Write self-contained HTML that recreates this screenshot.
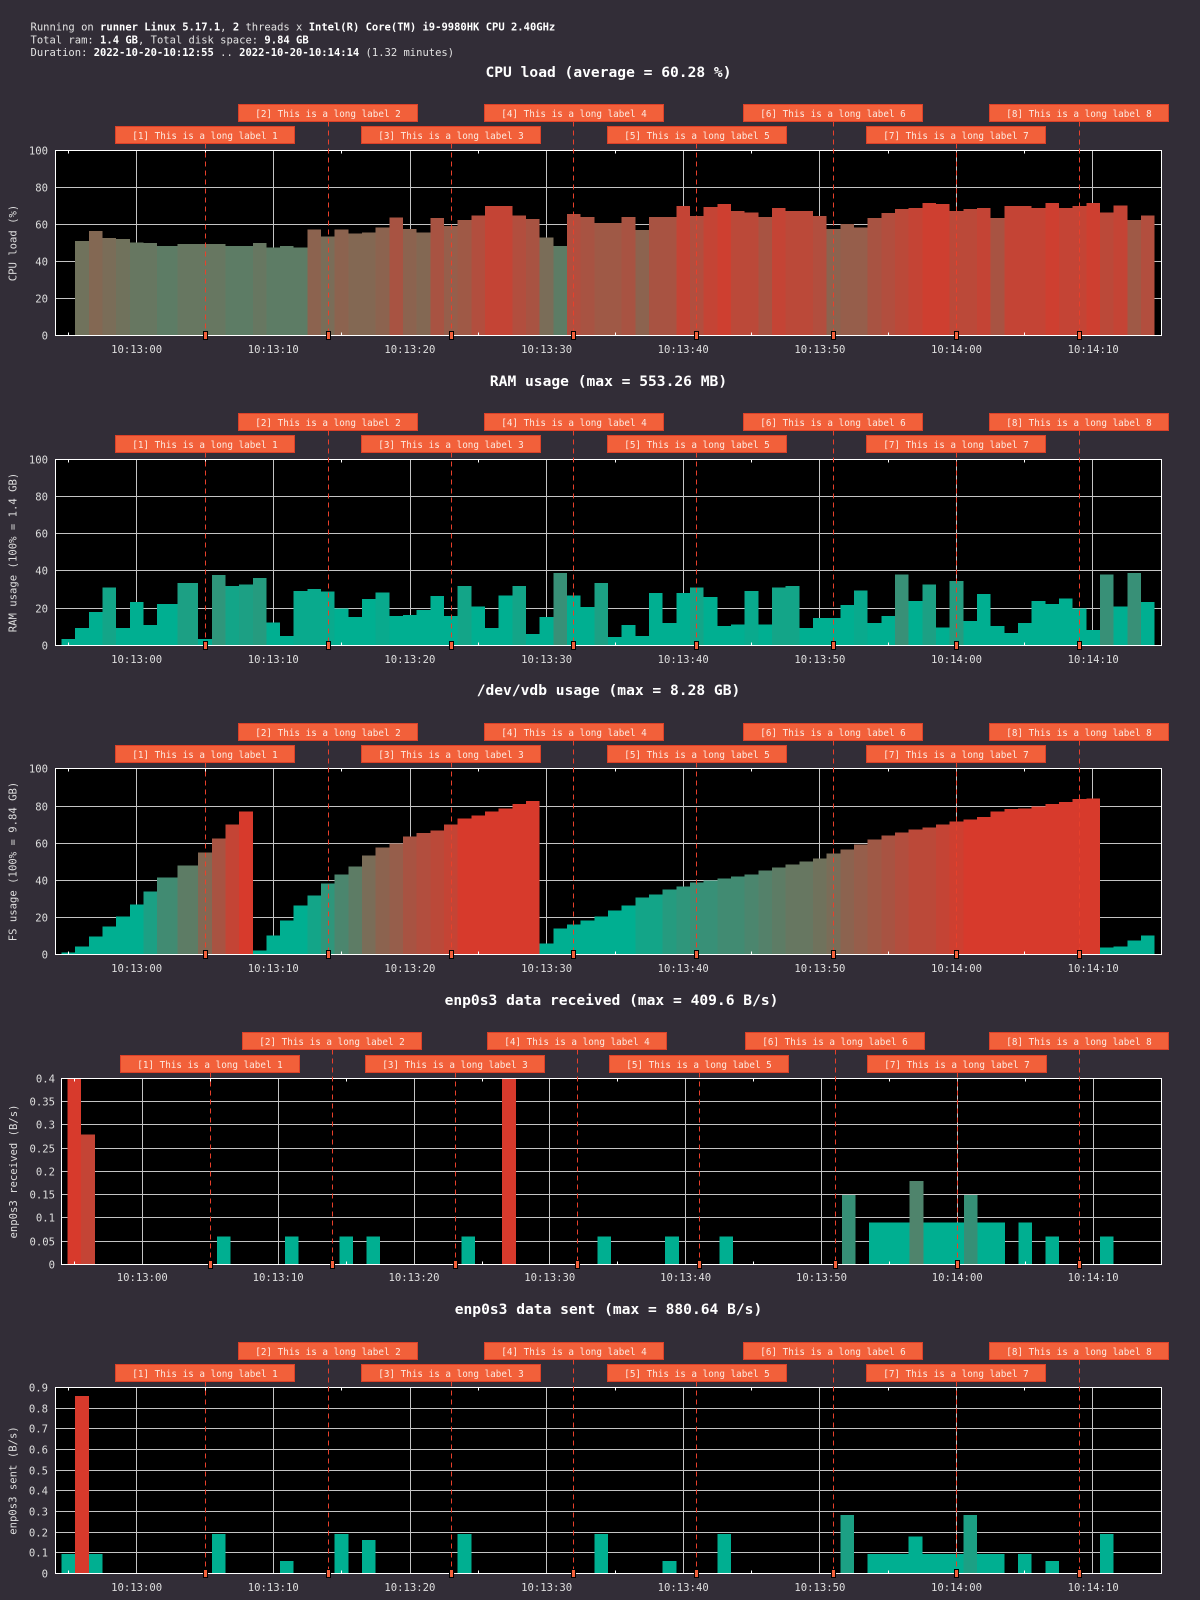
<!DOCTYPE html>
<html><head><meta charset="utf-8"><title>Resource usage</title>
<style>
html,body{margin:0;padding:0;background:#322d37;width:1200px;height:1600px;overflow:hidden}
svg{display:block}
.tk{font-size:10.6px;fill:#dedede}
.ya{text-anchor:end}
.xa{text-anchor:middle}
.ti{font-size:14.6px;font-weight:bold;fill:#ffffff;text-anchor:middle}
.lb{font-size:9.3px;fill:#fde9df;text-anchor:middle}
.hd{font-size:10.5px;fill:#e2e2e2}
.hd tspan{font-weight:bold;fill:#ffffff}
.bx{fill:#f2603a;stroke:#dc4129;stroke-width:1}
.mk{fill:#f2603a;stroke:#000;stroke-width:1}
.gr{stroke:#c4c4c4;stroke-width:1;fill:none}
.fr{stroke:#ffffff;stroke-width:1;fill:none}
.mt{stroke:#ffffff;stroke-width:1;fill:none}
.ds{stroke:#e8402b;stroke-width:1;stroke-dasharray:5 4;fill:none}
</style></head>
<body>
<svg xmlns="http://www.w3.org/2000/svg" width="1200" height="1600" viewBox="0 0 1200 1600" font-family="'DejaVu Sans Mono','Liberation Mono',monospace">
<rect width="1200" height="1600" fill="#322d37"/>

<!-- header -->
<text class="hd" x="30.5" y="30.5">Running on <tspan>runner Linux 5.17.1</tspan>, <tspan>2</tspan> threads x <tspan>Intel(R) Core(TM) i9-9980HK CPU 2.40GHz</tspan></text>
<text class="hd" x="30.5" y="43.3">Total ram: <tspan>1.4 GB</tspan>, Total disk space: <tspan>9.84 GB</tspan></text>
<text class="hd" x="30.5" y="56.2">Duration: <tspan>2022-10-20-10:12:55</tspan> .. <tspan>2022-10-20-10:14:14</tspan> (1.32 minutes)</text>

<!-- ================= PANEL 1 CPU ================= -->
<text class="ti" x="608.5" y="76.8">CPU load (average = 60.28 %)</text>
<rect x="55.5" y="150.5" width="1106" height="185" fill="#000"/>
<path class="gr" d="M55.5 187.5H1161.5M55.5 224.5H1161.5M55.5 261.5H1161.5M55.5 298.5H1161.5M136.5 150.5V335.5M273.5 150.5V335.5M410.5 150.5V335.5M546.5 150.5V335.5M683.5 150.5V335.5M819.5 150.5V335.5M956.5 150.5V335.5M1092.5 150.5V335.5"/>
<g transform="translate(136.6 335.5) scale(13.665 -1.85)" shape-rendering="crispEdges">
<rect x="-4.5" width="1" height="51" fill="#70725c"/>
<rect x="-3.5" width="1" height="56.4" fill="#836853"/>
<rect x="-2.5" width="1" height="52.6" fill="#7a6d58"/>
<rect x="-1.5" width="1" height="52.1" fill="#70725c"/>
<rect x="-0.5" width="1" height="50.4" fill="#677761"/>
<rect x="0.5" width="1" height="49.9" fill="#677761"/>
<rect x="1.5" width="1.5" height="48.3" fill="#5d7c65"/>
<rect x="3" width="1.5" height="49.4" fill="#677761"/>
<rect x="4.5" width="2" height="49.4" fill="#677761"/>
<rect x="6.5" width="2" height="48.3" fill="#5d7c65"/>
<rect x="8.5" width="1" height="49.9" fill="#677761"/>
<rect x="9.5" width="1" height="47.7" fill="#5d7c65"/>
<rect x="10.5" width="1" height="48.3" fill="#5d7c65"/>
<rect x="11.5" width="1" height="47.7" fill="#5d7c65"/>
<rect x="12.5" width="1" height="57.3" fill="#8c634f"/>
<rect x="13.5" width="1" height="53.5" fill="#7a6d58"/>
<rect x="14.5" width="1" height="57.3" fill="#8c634f"/>
<rect x="15.5" width="1" height="55.2" fill="#836853"/>
<rect x="16.5" width="1" height="55.7" fill="#836853"/>
<rect x="17.5" width="1" height="58.4" fill="#8c634f"/>
<rect x="18.5" width="1" height="63.8" fill="#a85342"/>
<rect x="19.5" width="1" height="57.5" fill="#8c634f"/>
<rect x="20.5" width="1" height="55.8" fill="#836853"/>
<rect x="21.5" width="1" height="63.4" fill="#a85342"/>
<rect x="22.5" width="1" height="59.1" fill="#965e4b"/>
<rect x="23.5" width="1" height="62.3" fill="#9f5946"/>
<rect x="24.5" width="1" height="65" fill="#b24e3e"/>
<rect x="25.5" width="2" height="69.9" fill="#c44435"/>
<rect x="27.5" width="1" height="65" fill="#b24e3e"/>
<rect x="28.5" width="1" height="62.9" fill="#a85342"/>
<rect x="29.5" width="1" height="53.1" fill="#7a6d58"/>
<rect x="30.5" width="1" height="48.3" fill="#5d7c65"/>
<rect x="31.5" width="1" height="65.6" fill="#b24e3e"/>
<rect x="32.5" width="1" height="64" fill="#a85342"/>
<rect x="33.5" width="2" height="60.7" fill="#9f5946"/>
<rect x="35.5" width="1" height="64" fill="#a85342"/>
<rect x="36.5" width="1" height="56.9" fill="#8c634f"/>
<rect x="37.5" width="2" height="64" fill="#a85342"/>
<rect x="39.5" width="1" height="69.9" fill="#c44435"/>
<rect x="40.5" width="1" height="64.5" fill="#b24e3e"/>
<rect x="41.5" width="1" height="69.4" fill="#c44435"/>
<rect x="42.5" width="1" height="71" fill="#ce3f30"/>
<rect x="43.5" width="1" height="67.2" fill="#bb4939"/>
<rect x="44.5" width="1" height="66.6" fill="#bb4939"/>
<rect x="45.5" width="1" height="64" fill="#a85342"/>
<rect x="46.5" width="1" height="68.8" fill="#c44435"/>
<rect x="47.5" width="2" height="67.2" fill="#bb4939"/>
<rect x="49.5" width="1" height="64.5" fill="#b24e3e"/>
<rect x="50.5" width="1" height="57.5" fill="#8c634f"/>
<rect x="51.5" width="1" height="60.2" fill="#965e4b"/>
<rect x="52.5" width="1" height="58.5" fill="#965e4b"/>
<rect x="53.5" width="1" height="63.4" fill="#a85342"/>
<rect x="54.5" width="1" height="66.1" fill="#b24e3e"/>
<rect x="55.5" width="1" height="68.3" fill="#bb4939"/>
<rect x="56.5" width="1" height="68.8" fill="#c44435"/>
<rect x="57.5" width="1" height="71.5" fill="#ce3f30"/>
<rect x="58.5" width="1" height="71" fill="#ce3f30"/>
<rect x="59.5" width="1" height="67.2" fill="#bb4939"/>
<rect x="60.5" width="1" height="68.3" fill="#bb4939"/>
<rect x="61.5" width="1" height="68.8" fill="#c44435"/>
<rect x="62.5" width="1" height="63.4" fill="#a85342"/>
<rect x="63.5" width="2" height="69.9" fill="#c44435"/>
<rect x="65.5" width="1" height="68.8" fill="#c44435"/>
<rect x="66.5" width="1" height="71.5" fill="#ce3f30"/>
<rect x="67.5" width="1" height="68.8" fill="#c44435"/>
<rect x="68.5" width="1" height="69.9" fill="#c44435"/>
<rect x="69.5" width="1" height="71.5" fill="#ce3f30"/>
<rect x="70.5" width="1" height="66.6" fill="#bb4939"/>
<rect x="71.5" width="1" height="70.4" fill="#c44435"/>
<rect x="72.5" width="1" height="62.3" fill="#9f5946"/>
<rect x="73.5" width="1" height="65" fill="#b24e3e"/>
</g>
<path class="mt" d="M68.5 150.5v3M68.5 335.5v-3M205.5 150.5v3M205.5 335.5v-3M341.5 150.5v3M341.5 335.5v-3M478.5 150.5v3M478.5 335.5v-3M615.5 150.5v3M615.5 335.5v-3M751.5 150.5v3M751.5 335.5v-3M888.5 150.5v3M888.5 335.5v-3M1024.5 150.5v3M1024.5 335.5v-3"/>
<rect class="fr" x="55.5" y="150.5" width="1106" height="185"/>
<path class="ds" d="M205.5 143.5V335.5M328.5 121.5V335.5M451.5 143.5V335.5M573.5 121.5V335.5M696.5 143.5V335.5M833.5 121.5V335.5M956.5 143.5V335.5M1079.5 121.5V335.5"/>
<rect class="bx" x="115.5" y="126.5" width="179" height="17"/><text class="lb" x="205" y="138.8">[1] This is a long label 1</text>
<rect class="bx" x="238.5" y="104.5" width="179" height="17"/><text class="lb" x="328" y="116.8">[2] This is a long label 2</text>
<rect class="bx" x="361.5" y="126.5" width="179" height="17"/><text class="lb" x="451" y="138.8">[3] This is a long label 3</text>
<rect class="bx" x="484.5" y="104.5" width="179" height="17"/><text class="lb" x="574" y="116.8">[4] This is a long label 4</text>
<rect class="bx" x="607.5" y="126.5" width="179" height="17"/><text class="lb" x="697" y="138.8">[5] This is a long label 5</text>
<rect class="bx" x="743.5" y="104.5" width="179" height="17"/><text class="lb" x="833" y="116.8">[6] This is a long label 6</text>
<rect class="bx" x="866.5" y="126.5" width="179" height="17"/><text class="lb" x="956" y="138.8">[7] This is a long label 7</text>
<rect class="bx" x="989.5" y="104.5" width="179" height="17"/><text class="lb" x="1079" y="116.8">[8] This is a long label 8</text>
<g class="mk"><rect x="203.5" y="331.5" width="4" height="8"/><rect x="326.5" y="331.5" width="4" height="8"/><rect x="449.5" y="331.5" width="4" height="8"/><rect x="571.5" y="331.5" width="4" height="8"/><rect x="694.5" y="331.5" width="4" height="8"/><rect x="831.5" y="331.5" width="4" height="8"/><rect x="954.5" y="331.5" width="4" height="8"/><rect x="1077.5" y="331.5" width="4" height="8"/></g>
<g class="tk ya"><text x="48" y="154.3">100</text><text x="48" y="191.3">80</text><text x="48" y="228.3">60</text><text x="48" y="265.3">40</text><text x="48" y="302.3">20</text><text x="48" y="339.3">0</text></g>
<g class="tk xa"><text x="136.6" y="353">10:13:00</text><text x="273.3" y="353">10:13:10</text><text x="409.9" y="353">10:13:20</text><text x="546.6" y="353">10:13:30</text><text x="683.2" y="353">10:13:40</text><text x="819.9" y="353">10:13:50</text><text x="956.5" y="353">10:14:00</text><text x="1093.2" y="353">10:14:10</text></g>
<text class="tk xa" transform="translate(16.5 243) rotate(-90)">CPU load (%)</text>

<!-- ================= PANEL 2 RAM ================= -->
<text class="ti" x="608.5" y="385.8">RAM usage (max = 553.26 MB)</text>
<rect x="55.5" y="459.5" width="1106" height="186" fill="#000"/>
<path class="gr" d="M55.5 496.5H1161.5M55.5 533.5H1161.5M55.5 570.5H1161.5M55.5 608.5H1161.5M136.5 459.5V645.5M273.5 459.5V645.5M410.5 459.5V645.5M546.5 459.5V645.5M683.5 459.5V645.5M819.5 459.5V645.5M956.5 459.5V645.5M1092.5 459.5V645.5"/>
<g transform="translate(136.6 645.5) scale(13.665 -1.86)" shape-rendering="crispEdges" fill="#00af91">
<rect x="-5.5" width="1" height="3.4"/>
<rect x="-4.5" width="1" height="9.3"/>
<rect x="-3.5" width="1" height="17.9"/>
<rect x="-2.5" width="1" height="31.3" fill="#13a588"/>
<rect x="-1.5" width="1" height="9.3"/>
<rect x="-0.5" width="1" height="23.3"/>
<rect x="0.5" width="1" height="10.9"/>
<rect x="1.5" width="1.5" height="22.2"/>
<rect x="3" width="1.5" height="33.5" fill="#1ca084"/>
<rect x="4.5" width="1" height="3.4"/>
<rect x="5.5" width="1" height="37.8" fill="#2f967b"/>
<rect x="6.5" width="1" height="31.9" fill="#13a588"/>
<rect x="7.5" width="1" height="32.9" fill="#1ca084"/>
<rect x="8.5" width="1" height="36.2" fill="#259b7f"/>
<rect x="9.5" width="1" height="12.5"/>
<rect x="10.5" width="1" height="5"/>
<rect x="11.5" width="1" height="29.2" fill="#09aa8d"/>
<rect x="12.5" width="1" height="30.3" fill="#09aa8d"/>
<rect x="13.5" width="1" height="29" fill="#09aa8d"/>
<rect x="14.5" width="1" height="20"/>
<rect x="15.5" width="1" height="15.2"/>
<rect x="16.5" width="1" height="24.9"/>
<rect x="17.5" width="1" height="28.6" fill="#09aa8d"/>
<rect x="18.5" width="1" height="15.8"/>
<rect x="19.5" width="1" height="16.3"/>
<rect x="20.5" width="1" height="19"/>
<rect x="21.5" width="1" height="26.5"/>
<rect x="22.5" width="1" height="15.8"/>
<rect x="23.5" width="1" height="31.9" fill="#13a588"/>
<rect x="24.5" width="1" height="21.1"/>
<rect x="25.5" width="1" height="9.3"/>
<rect x="26.5" width="1" height="27"/>
<rect x="27.5" width="1" height="31.9" fill="#13a588"/>
<rect x="28.5" width="1" height="6.1"/>
<rect x="29.5" width="1" height="15.2"/>
<rect x="30.5" width="1" height="38.9" fill="#389077"/>
<rect x="31.5" width="1" height="27"/>
<rect x="32.5" width="1" height="20.6"/>
<rect x="33.5" width="1" height="33.5" fill="#1ca084"/>
<rect x="34.5" width="1" height="4.5"/>
<rect x="35.5" width="1" height="10.9"/>
<rect x="36.5" width="1" height="5"/>
<rect x="37.5" width="1" height="28.1"/>
<rect x="38.5" width="1" height="12"/>
<rect x="39.5" width="1" height="28.1"/>
<rect x="40.5" width="1" height="31.3" fill="#13a588"/>
<rect x="41.5" width="1" height="26"/>
<rect x="42.5" width="1" height="10.4"/>
<rect x="43.5" width="1" height="11.4"/>
<rect x="44.5" width="1" height="29.2" fill="#09aa8d"/>
<rect x="45.5" width="1" height="11.4"/>
<rect x="46.5" width="1" height="31.3" fill="#13a588"/>
<rect x="47.5" width="1" height="31.9" fill="#13a588"/>
<rect x="48.5" width="1" height="9.3"/>
<rect x="49.5" width="2" height="14.7"/>
<rect x="51.5" width="1" height="21.7"/>
<rect x="52.5" width="1" height="29.7" fill="#09aa8d"/>
<rect x="53.5" width="1" height="12"/>
<rect x="54.5" width="1" height="15.8"/>
<rect x="55.5" width="1" height="38.3" fill="#389077"/>
<rect x="56.5" width="1" height="23.8"/>
<rect x="57.5" width="1" height="32.9" fill="#1ca084"/>
<rect x="58.5" width="1" height="9.8"/>
<rect x="59.5" width="1" height="34.6" fill="#259b7f"/>
<rect x="60.5" width="1" height="13.1"/>
<rect x="61.5" width="1" height="27.6"/>
<rect x="62.5" width="1" height="10.4"/>
<rect x="63.5" width="1" height="6.6"/>
<rect x="64.5" width="1" height="12"/>
<rect x="65.5" width="1" height="23.8"/>
<rect x="66.5" width="1" height="22.2"/>
<rect x="67.5" width="1" height="25.4"/>
<rect x="68.5" width="1" height="20"/>
<rect x="69.5" width="1" height="8.2"/>
<rect x="70.5" width="1" height="38.3" fill="#389077"/>
<rect x="71.5" width="1" height="21.1"/>
<rect x="72.5" width="1" height="38.9" fill="#389077"/>
<rect x="73.5" width="1" height="23.3"/>
</g>
<path class="mt" d="M68.5 459.5v3M68.5 645.5v-3M205.5 459.5v3M205.5 645.5v-3M341.5 459.5v3M341.5 645.5v-3M478.5 459.5v3M478.5 645.5v-3M615.5 459.5v3M615.5 645.5v-3M751.5 459.5v3M751.5 645.5v-3M888.5 459.5v3M888.5 645.5v-3M1024.5 459.5v3M1024.5 645.5v-3"/>
<rect class="fr" x="55.5" y="459.5" width="1106" height="186"/>
<path class="ds" d="M205.5 452.5V645.5M328.5 430.5V645.5M451.5 452.5V645.5M573.5 430.5V645.5M696.5 452.5V645.5M833.5 430.5V645.5M956.5 452.5V645.5M1079.5 430.5V645.5"/>
<rect class="bx" x="115.5" y="435.5" width="179" height="17"/><text class="lb" x="205" y="447.8">[1] This is a long label 1</text>
<rect class="bx" x="238.5" y="413.5" width="179" height="17"/><text class="lb" x="328" y="425.8">[2] This is a long label 2</text>
<rect class="bx" x="361.5" y="435.5" width="179" height="17"/><text class="lb" x="451" y="447.8">[3] This is a long label 3</text>
<rect class="bx" x="484.5" y="413.5" width="179" height="17"/><text class="lb" x="574" y="425.8">[4] This is a long label 4</text>
<rect class="bx" x="607.5" y="435.5" width="179" height="17"/><text class="lb" x="697" y="447.8">[5] This is a long label 5</text>
<rect class="bx" x="743.5" y="413.5" width="179" height="17"/><text class="lb" x="833" y="425.8">[6] This is a long label 6</text>
<rect class="bx" x="866.5" y="435.5" width="179" height="17"/><text class="lb" x="956" y="447.8">[7] This is a long label 7</text>
<rect class="bx" x="989.5" y="413.5" width="179" height="17"/><text class="lb" x="1079" y="425.8">[8] This is a long label 8</text>
<g class="mk"><rect x="203.5" y="641.5" width="4" height="8"/><rect x="326.5" y="641.5" width="4" height="8"/><rect x="449.5" y="641.5" width="4" height="8"/><rect x="571.5" y="641.5" width="4" height="8"/><rect x="694.5" y="641.5" width="4" height="8"/><rect x="831.5" y="641.5" width="4" height="8"/><rect x="954.5" y="641.5" width="4" height="8"/><rect x="1077.5" y="641.5" width="4" height="8"/></g>
<g class="tk ya"><text x="48" y="463.3">100</text><text x="48" y="500.3">80</text><text x="48" y="537.3">60</text><text x="48" y="574.3">40</text><text x="48" y="612.3">20</text><text x="48" y="649.3">0</text></g>
<g class="tk xa"><text x="136.6" y="663">10:13:00</text><text x="273.3" y="663">10:13:10</text><text x="409.9" y="663">10:13:20</text><text x="546.6" y="663">10:13:30</text><text x="683.2" y="663">10:13:40</text><text x="819.9" y="663">10:13:50</text><text x="956.5" y="663">10:14:00</text><text x="1093.2" y="663">10:14:10</text></g>
<text class="tk xa" transform="translate(16.5 552.5) rotate(-90)">RAM usage (100% = 1.4 GB)</text>

<!-- ================= PANEL 3 FS ================= -->
<text class="ti" x="608.5" y="694.8">/dev/vdb usage (max = 8.28 GB)</text>
<rect x="55.5" y="768.5" width="1106" height="186" fill="#000"/>
<path class="gr" d="M55.5 806.5H1161.5M55.5 843.5H1161.5M55.5 880.5H1161.5M55.5 917.5H1161.5M136.5 768.5V954.5M273.5 768.5V954.5M410.5 768.5V954.5M546.5 768.5V954.5M683.5 768.5V954.5M819.5 768.5V954.5M956.5 768.5V954.5M1092.5 768.5V954.5"/>
<g transform="translate(136.6 954.5) scale(13.665 -1.86)" shape-rendering="crispEdges" fill="#00af91">
<rect x="-5.5" width="1" height="1.1"/>
<rect x="-4.5" width="1" height="4.3"/>
<rect x="-3.5" width="1" height="9.7"/>
<rect x="-2.5" width="1" height="15.1"/>
<rect x="-1.5" width="1" height="20.5"/>
<rect x="-0.5" width="1" height="26.9"/>
<rect x="0.5" width="1" height="33.9" fill="#1ca084"/>
<rect x="1.5" width="1.5" height="41.5" fill="#418b72"/>
<rect x="3" width="1.5" height="47.9" fill="#5d7c65"/>
<rect x="4.5" width="1" height="54.9" fill="#836853"/>
<rect x="5.5" width="1" height="62.5" fill="#a85342"/>
<rect x="6.5" width="1" height="70" fill="#c44435"/>
<rect x="7.5" width="1" height="77" fill="#d73a2c"/>
<rect x="8.5" width="1" height="2.2"/>
<rect x="9.5" width="1" height="10.2"/>
<rect x="10.5" width="1" height="18.3"/>
<rect x="11.5" width="1" height="26.4"/>
<rect x="12.5" width="1" height="31.8" fill="#13a588"/>
<rect x="13.5" width="1" height="38.2" fill="#2f967b"/>
<rect x="14.5" width="1" height="43.1" fill="#4b866e"/>
<rect x="15.5" width="1" height="47.4" fill="#5d7c65"/>
<rect x="16.5" width="1" height="53.3" fill="#7a6d58"/>
<rect x="17.5" width="1" height="57.6" fill="#8c634f"/>
<rect x="18.5" width="1" height="59.8" fill="#965e4b"/>
<rect x="19.5" width="1" height="63.5" fill="#a85342"/>
<rect x="20.5" width="1" height="65.2" fill="#b24e3e"/>
<rect x="21.5" width="1" height="66.8" fill="#bb4939"/>
<rect x="22.5" width="1" height="70" fill="#c44435"/>
<rect x="23.5" width="1" height="73.2" fill="#d73a2c"/>
<rect x="24.5" width="1" height="74.8" fill="#d73a2c"/>
<rect x="25.5" width="1" height="77" fill="#d73a2c"/>
<rect x="26.5" width="1" height="78.6" fill="#d73a2c"/>
<rect x="27.5" width="1" height="80.8" fill="#d73a2c"/>
<rect x="28.5" width="1" height="82.4" fill="#d73a2c"/>
<rect x="29.5" width="1" height="5.9"/>
<rect x="30.5" width="1" height="14"/>
<rect x="31.5" width="1" height="16.2"/>
<rect x="32.5" width="1" height="18.3"/>
<rect x="33.5" width="1" height="20.5"/>
<rect x="34.5" width="1" height="23.7"/>
<rect x="35.5" width="1" height="26.4"/>
<rect x="36.5" width="1" height="30.7" fill="#13a588"/>
<rect x="37.5" width="1" height="32.3" fill="#13a588"/>
<rect x="38.5" width="1" height="35" fill="#259b7f"/>
<rect x="39.5" width="1" height="36.6" fill="#2f967b"/>
<rect x="40.5" width="1" height="38.8" fill="#389077"/>
<rect x="41.5" width="1" height="39.8" fill="#389077"/>
<rect x="42.5" width="1" height="40.9" fill="#418b72"/>
<rect x="43.5" width="1" height="42" fill="#418b72"/>
<rect x="44.5" width="1" height="43.1" fill="#4b866e"/>
<rect x="45.5" width="1" height="45.2" fill="#54816a"/>
<rect x="46.5" width="1" height="46.8" fill="#5d7c65"/>
<rect x="47.5" width="1" height="48.5" fill="#677761"/>
<rect x="48.5" width="1" height="50.1" fill="#677761"/>
<rect x="49.5" width="1" height="51.7" fill="#70725c"/>
<rect x="50.5" width="1" height="54.4" fill="#7a6d58"/>
<rect x="51.5" width="1" height="56.5" fill="#8c634f"/>
<rect x="52.5" width="1" height="59.2" fill="#965e4b"/>
<rect x="53.5" width="1" height="61.9" fill="#9f5946"/>
<rect x="54.5" width="1" height="64.1" fill="#a85342"/>
<rect x="55.5" width="1" height="65.7" fill="#b24e3e"/>
<rect x="56.5" width="1" height="67.3" fill="#bb4939"/>
<rect x="57.5" width="1" height="68.4" fill="#bb4939"/>
<rect x="58.5" width="1" height="70" fill="#c44435"/>
<rect x="59.5" width="1" height="71.6" fill="#ce3f30"/>
<rect x="60.5" width="1" height="72.7" fill="#d73a2c"/>
<rect x="61.5" width="1" height="73.8" fill="#d73a2c"/>
<rect x="62.5" width="1" height="77" fill="#d73a2c"/>
<rect x="63.5" width="1" height="78.1" fill="#d73a2c"/>
<rect x="64.5" width="1" height="78.6" fill="#d73a2c"/>
<rect x="65.5" width="1" height="79.7" fill="#d73a2c"/>
<rect x="66.5" width="1" height="80.8" fill="#d73a2c"/>
<rect x="67.5" width="1" height="81.9" fill="#d73a2c"/>
<rect x="68.5" width="1" height="83.5" fill="#d73a2c"/>
<rect x="69.5" width="1" height="84" fill="#d73a2c"/>
<rect x="70.5" width="1" height="3.8"/>
<rect x="71.5" width="1" height="4.3"/>
<rect x="72.5" width="1" height="7.5"/>
<rect x="73.5" width="1" height="10.2"/>
</g>
<path class="mt" d="M68.5 768.5v3M68.5 954.5v-3M205.5 768.5v3M205.5 954.5v-3M341.5 768.5v3M341.5 954.5v-3M478.5 768.5v3M478.5 954.5v-3M615.5 768.5v3M615.5 954.5v-3M751.5 768.5v3M751.5 954.5v-3M888.5 768.5v3M888.5 954.5v-3M1024.5 768.5v3M1024.5 954.5v-3"/>
<rect class="fr" x="55.5" y="768.5" width="1106" height="186"/>
<path class="ds" d="M205.5 762.5V954.5M328.5 740.5V954.5M451.5 762.5V954.5M573.5 740.5V954.5M696.5 762.5V954.5M833.5 740.5V954.5M956.5 762.5V954.5M1079.5 740.5V954.5"/>
<rect class="bx" x="115.5" y="745.5" width="179" height="17"/><text class="lb" x="205" y="757.8">[1] This is a long label 1</text>
<rect class="bx" x="238.5" y="723.5" width="179" height="17"/><text class="lb" x="328" y="735.8">[2] This is a long label 2</text>
<rect class="bx" x="361.5" y="745.5" width="179" height="17"/><text class="lb" x="451" y="757.8">[3] This is a long label 3</text>
<rect class="bx" x="484.5" y="723.5" width="179" height="17"/><text class="lb" x="574" y="735.8">[4] This is a long label 4</text>
<rect class="bx" x="607.5" y="745.5" width="179" height="17"/><text class="lb" x="697" y="757.8">[5] This is a long label 5</text>
<rect class="bx" x="743.5" y="723.5" width="179" height="17"/><text class="lb" x="833" y="735.8">[6] This is a long label 6</text>
<rect class="bx" x="866.5" y="745.5" width="179" height="17"/><text class="lb" x="956" y="757.8">[7] This is a long label 7</text>
<rect class="bx" x="989.5" y="723.5" width="179" height="17"/><text class="lb" x="1079" y="735.8">[8] This is a long label 8</text>
<g class="mk"><rect x="203.5" y="950.5" width="4" height="8"/><rect x="326.5" y="950.5" width="4" height="8"/><rect x="449.5" y="950.5" width="4" height="8"/><rect x="571.5" y="950.5" width="4" height="8"/><rect x="694.5" y="950.5" width="4" height="8"/><rect x="831.5" y="950.5" width="4" height="8"/><rect x="954.5" y="950.5" width="4" height="8"/><rect x="1077.5" y="950.5" width="4" height="8"/></g>
<g class="tk ya"><text x="48" y="772.3">100</text><text x="48" y="810.3">80</text><text x="48" y="847.3">60</text><text x="48" y="884.3">40</text><text x="48" y="921.3">20</text><text x="48" y="958.3">0</text></g>
<g class="tk xa"><text x="136.6" y="972">10:13:00</text><text x="273.3" y="972">10:13:10</text><text x="409.9" y="972">10:13:20</text><text x="546.6" y="972">10:13:30</text><text x="683.2" y="972">10:13:40</text><text x="819.9" y="972">10:13:50</text><text x="956.5" y="972">10:14:00</text><text x="1093.2" y="972">10:14:10</text></g>
<text class="tk xa" transform="translate(16.5 861.5) rotate(-90)">FS usage (100% = 9.84 GB)</text>

<!-- ================= PANEL 4 RECEIVED ================= -->
<text class="ti" x="611.5" y="1004.8">enp0s3 data received (max = 409.6 B/s)</text>
<rect x="61.5" y="1078.5" width="1100" height="186" fill="#000"/>
<path class="gr" d="M61.5 1101.5H1161.5M61.5 1124.5H1161.5M61.5 1148.5H1161.5M61.5 1171.5H1161.5M61.5 1194.5H1161.5M61.5 1217.5H1161.5M61.5 1241.5H1161.5M142.5 1078.5V1264.5M278.5 1078.5V1264.5M414.5 1078.5V1264.5M549.5 1078.5V1264.5M685.5 1078.5V1264.5M821.5 1078.5V1264.5M957.5 1078.5V1264.5M1093.5 1078.5V1264.5"/>
<g transform="translate(142.3 1264.5) scale(13.583 -465)" shape-rendering="crispEdges" fill="#00af91">
<rect x="-5.5" width="1" height="0.4" fill="#d73a2c"/>
<rect x="-4.5" width="1" height="0.28" fill="#c44435"/>
<rect x="5.5" width="1" height="0.06"/>
<rect x="10.5" width="1" height="0.06"/>
<rect x="14.5" width="1" height="0.06"/>
<rect x="16.5" width="1" height="0.06"/>
<rect x="23.5" width="1" height="0.06"/>
<rect x="26.5" width="1" height="0.4" fill="#d73a2c"/>
<rect x="33.5" width="1" height="0.06"/>
<rect x="38.5" width="1" height="0.06"/>
<rect x="42.5" width="1" height="0.06"/>
<rect x="51.5" width="1" height="0.15" fill="#368f76"/>
<rect x="53.5" width="3" height="0.09"/>
<rect x="56.5" width="1" height="0.18" fill="#4f846c"/>
<rect x="57.5" width="3" height="0.09"/>
<rect x="60.5" width="1" height="0.15" fill="#368f76"/>
<rect x="61.5" width="2" height="0.09"/>
<rect x="64.5" width="1" height="0.09"/>
<rect x="66.5" width="1" height="0.06"/>
<rect x="70.5" width="1" height="0.06"/>
</g>
<path class="mt" d="M74.5 1078.5v3M74.5 1264.5v-3M210.5 1078.5v3M210.5 1264.5v-3M346.5 1078.5v3M346.5 1264.5v-3M482.5 1078.5v3M482.5 1264.5v-3M617.5 1078.5v3M617.5 1264.5v-3M753.5 1078.5v3M753.5 1264.5v-3M889.5 1078.5v3M889.5 1264.5v-3M1025.5 1078.5v3M1025.5 1264.5v-3"/>
<rect class="fr" x="61.5" y="1078.5" width="1100" height="186"/>
<path class="ds" d="M210.5 1072.5V1264.5M332.5 1049.5V1264.5M455.5 1072.5V1264.5M577.5 1049.5V1264.5M699.5 1072.5V1264.5M835.5 1049.5V1264.5M957.5 1072.5V1264.5M1079.5 1049.5V1264.5"/>
<rect class="bx" x="120.5" y="1055.5" width="179" height="17"/><text class="lb" x="210" y="1067.8">[1] This is a long label 1</text>
<rect class="bx" x="242.5" y="1032.5" width="179" height="17"/><text class="lb" x="332" y="1044.8">[2] This is a long label 2</text>
<rect class="bx" x="365.5" y="1055.5" width="179" height="17"/><text class="lb" x="455" y="1067.8">[3] This is a long label 3</text>
<rect class="bx" x="487.5" y="1032.5" width="179" height="17"/><text class="lb" x="577" y="1044.8">[4] This is a long label 4</text>
<rect class="bx" x="609.5" y="1055.5" width="179" height="17"/><text class="lb" x="699" y="1067.8">[5] This is a long label 5</text>
<rect class="bx" x="745.5" y="1032.5" width="179" height="17"/><text class="lb" x="835" y="1044.8">[6] This is a long label 6</text>
<rect class="bx" x="867.5" y="1055.5" width="179" height="17"/><text class="lb" x="957" y="1067.8">[7] This is a long label 7</text>
<rect class="bx" x="989.5" y="1032.5" width="179" height="17"/><text class="lb" x="1079" y="1044.8">[8] This is a long label 8</text>
<g class="mk"><rect x="208.5" y="1260.5" width="4" height="8"/><rect x="330.5" y="1260.5" width="4" height="8"/><rect x="453.5" y="1260.5" width="4" height="8"/><rect x="575.5" y="1260.5" width="4" height="8"/><rect x="697.5" y="1260.5" width="4" height="8"/><rect x="833.5" y="1260.5" width="4" height="8"/><rect x="955.5" y="1260.5" width="4" height="8"/><rect x="1077.5" y="1260.5" width="4" height="8"/></g>
<g class="tk ya"><text x="55" y="1082.3">0.4</text><text x="55" y="1105.3">0.35</text><text x="55" y="1128.3">0.3</text><text x="55" y="1152.3">0.25</text><text x="55" y="1175.3">0.2</text><text x="55" y="1198.3">0.15</text><text x="55" y="1221.3">0.1</text><text x="55" y="1245.3">0.05</text><text x="55" y="1268.3">0</text></g>
<g class="tk xa"><text x="142.3" y="1281">10:13:00</text><text x="278.1" y="1281">10:13:10</text><text x="414" y="1281">10:13:20</text><text x="549.8" y="1281">10:13:30</text><text x="685.6" y="1281">10:13:40</text><text x="821.5" y="1281">10:13:50</text><text x="957.3" y="1281">10:14:00</text><text x="1093.1" y="1281">10:14:10</text></g>
<text class="tk xa" transform="translate(17 1171.5) rotate(-90)">enp0s3 received (B/s)</text>

<!-- ================= PANEL 5 SENT ================= -->
<text class="ti" x="608.5" y="1313.8">enp0s3 data sent (max = 880.64 B/s)</text>
<rect x="55.5" y="1387.5" width="1106" height="186" fill="#000"/>
<path class="gr" d="M55.5 1408.5H1161.5M55.5 1428.5H1161.5M55.5 1449.5H1161.5M55.5 1470.5H1161.5M55.5 1490.5H1161.5M55.5 1511.5H1161.5M55.5 1532.5H1161.5M55.5 1552.5H1161.5M136.5 1387.5V1573.5M273.5 1387.5V1573.5M410.5 1387.5V1573.5M546.5 1387.5V1573.5M683.5 1387.5V1573.5M819.5 1387.5V1573.5M956.5 1387.5V1573.5M1092.5 1387.5V1573.5"/>
<g transform="translate(136.6 1573.5) scale(13.665 -206.67)" shape-rendering="crispEdges" fill="#00af91">
<rect x="-5.5" width="1" height="0.094"/>
<rect x="-4.5" width="1" height="0.86" fill="#d73a2c"/>
<rect x="-3.5" width="1" height="0.094"/>
<rect x="5.5" width="1" height="0.19"/>
<rect x="10.5" width="1" height="0.06"/>
<rect x="14.5" width="1" height="0.19"/>
<rect x="16.5" width="1" height="0.162"/>
<rect x="23.5" width="1" height="0.19"/>
<rect x="33.5" width="1" height="0.19"/>
<rect x="38.5" width="1" height="0.06"/>
<rect x="42.5" width="1" height="0.19"/>
<rect x="51.5" width="1" height="0.283" fill="#1ca084"/>
<rect x="53.5" width="3" height="0.094"/>
<rect x="56.5" width="1" height="0.18"/>
<rect x="57.5" width="3" height="0.094"/>
<rect x="60.5" width="1" height="0.283" fill="#1ca084"/>
<rect x="61.5" width="2" height="0.094"/>
<rect x="64.5" width="1" height="0.094"/>
<rect x="66.5" width="1" height="0.06"/>
<rect x="70.5" width="1" height="0.19"/>
</g>
<path class="mt" d="M68.5 1387.5v3M68.5 1573.5v-3M205.5 1387.5v3M205.5 1573.5v-3M341.5 1387.5v3M341.5 1573.5v-3M478.5 1387.5v3M478.5 1573.5v-3M615.5 1387.5v3M615.5 1573.5v-3M751.5 1387.5v3M751.5 1573.5v-3M888.5 1387.5v3M888.5 1573.5v-3M1024.5 1387.5v3M1024.5 1573.5v-3"/>
<rect class="fr" x="55.5" y="1387.5" width="1106" height="186"/>
<path class="ds" d="M205.5 1381.5V1573.5M328.5 1359.5V1573.5M451.5 1381.5V1573.5M573.5 1359.5V1573.5M696.5 1381.5V1573.5M833.5 1359.5V1573.5M956.5 1381.5V1573.5M1079.5 1359.5V1573.5"/>
<rect class="bx" x="115.5" y="1364.5" width="179" height="17"/><text class="lb" x="205" y="1376.8">[1] This is a long label 1</text>
<rect class="bx" x="238.5" y="1342.5" width="179" height="17"/><text class="lb" x="328" y="1354.8">[2] This is a long label 2</text>
<rect class="bx" x="361.5" y="1364.5" width="179" height="17"/><text class="lb" x="451" y="1376.8">[3] This is a long label 3</text>
<rect class="bx" x="484.5" y="1342.5" width="179" height="17"/><text class="lb" x="574" y="1354.8">[4] This is a long label 4</text>
<rect class="bx" x="607.5" y="1364.5" width="179" height="17"/><text class="lb" x="697" y="1376.8">[5] This is a long label 5</text>
<rect class="bx" x="743.5" y="1342.5" width="179" height="17"/><text class="lb" x="833" y="1354.8">[6] This is a long label 6</text>
<rect class="bx" x="866.5" y="1364.5" width="179" height="17"/><text class="lb" x="956" y="1376.8">[7] This is a long label 7</text>
<rect class="bx" x="989.5" y="1342.5" width="179" height="17"/><text class="lb" x="1079" y="1354.8">[8] This is a long label 8</text>
<g class="mk"><rect x="203.5" y="1569.5" width="4" height="8"/><rect x="326.5" y="1569.5" width="4" height="8"/><rect x="449.5" y="1569.5" width="4" height="8"/><rect x="571.5" y="1569.5" width="4" height="8"/><rect x="694.5" y="1569.5" width="4" height="8"/><rect x="831.5" y="1569.5" width="4" height="8"/><rect x="954.5" y="1569.5" width="4" height="8"/><rect x="1077.5" y="1569.5" width="4" height="8"/></g>
<g class="tk ya"><text x="48" y="1391.3">0.9</text><text x="48" y="1412.3">0.8</text><text x="48" y="1432.3">0.7</text><text x="48" y="1453.3">0.6</text><text x="48" y="1474.3">0.5</text><text x="48" y="1494.3">0.4</text><text x="48" y="1515.3">0.3</text><text x="48" y="1536.3">0.2</text><text x="48" y="1556.3">0.1</text><text x="48" y="1577.3">0</text></g>
<g class="tk xa"><text x="136.6" y="1591">10:13:00</text><text x="273.3" y="1591">10:13:10</text><text x="409.9" y="1591">10:13:20</text><text x="546.6" y="1591">10:13:30</text><text x="683.2" y="1591">10:13:40</text><text x="819.9" y="1591">10:13:50</text><text x="956.5" y="1591">10:14:00</text><text x="1093.2" y="1591">10:14:10</text></g>
<text class="tk xa" transform="translate(16.5 1480.5) rotate(-90)">enp0s3 sent (B/s)</text>
</svg>
</body></html>
